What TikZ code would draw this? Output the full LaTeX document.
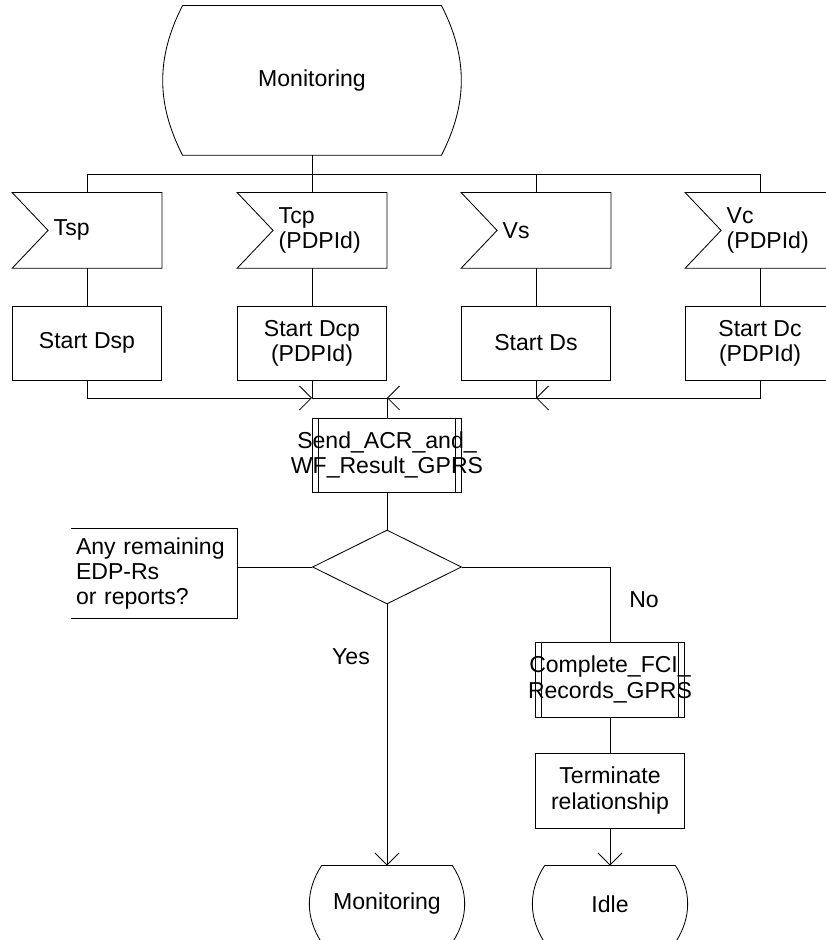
\documentclass[tikz,border=0pt]{standalone}
\usepackage{fontspec}
\setmainfont{Liberation Sans}
\usetikzlibrary{shapes.geometric, arrows.meta}

\begin{document}
\begin{tikzpicture}[line width=0.6pt, font=\fontsize{16.4}{18}\selectfont]
	\tikzset{
		statebox/.style={inner sep=0pt},
		insig/.style={minimum width=3.725cm, minimum height=1.875cm, inner sep=0pt},
		sigtext/.style={anchor=west, xshift=1.03cm, inner sep=0pt, align=left},
		taskbox/.style={draw, minimum width=3.725cm, minimum height=1.85cm, inner sep=0pt, align=center},
		procbox/.style={draw, minimum width=3.725cm, minimum height=1.85cm, inner sep=0pt},
		proctext/.style={inner sep=0pt, align=center},
		cmtbox/.style={minimum width=4.15cm, minimum height=2.225cm, text width=3.9cm, inner xsep=0.125cm, inner ysep=0pt, align=left},
		arr/.style={-{Straight Barb[length=3mm, width=6mm]}}
	}
	\useasboundingbox (0, 0) rectangle (20.65, 23.5);

	% States:
	\node[statebox, minimum width=6.45cm, minimum height=3.725cm] (mon) at (7.8, 21.49) {Monitoring};
	\node[statebox, minimum width=3.25cm, minimum height=1.9cm] (mon2) at (9.675, 0.9) {Monitoring};
	\node[statebox, minimum width=3.25cm, minimum height=1.9cm] (idle) at (15.25, 0.9) {Idle};
	\draw (mon.north west) -- (mon.north east) to[bend left=27] (mon.south east) -- (mon.south west) to[bend left=27] (mon.north west);
	\foreach \n in {mon2, idle}
		\draw (\n.north west) -- (\n.north east) to[bend left=33] (\n.south east) -- (\n.south west) to[bend left=33] (\n.north west);

	% Inputs and tasks:
	\node[insig, label={[sigtext]west:Tsp}] (tsp) at (2.175, 17.74) {};
	\node[insig, label={[sigtext]west:{Tcp\\(PDPId)}}] (tcp) at (7.8, 17.74) {};
	\node[insig, label={[sigtext]west:Vs}] (vs) at (13.4, 17.74) {};
	\node[insig, label={[sigtext]west:{Vc\\(PDPId)}}] (vc) at (19.0, 17.74) {};
	\foreach \n in {tsp, tcp, vs, vc}
		\draw (\n.north west) -- (\n.north east) -- (\n.south east) -- (\n.south west) -- ([xshift=0.9cm]\n.west) -- cycle;
	\node[taskbox] (dsp) at (2.175, 14.925) {Start Dsp};
	\node[taskbox] (dcp) at (7.8, 14.925) {Start Dcp\\(PDPId)};
	\node[taskbox] (ds) at (13.4, 14.925) {Start Ds};
	\node[taskbox] (dc) at (19.0, 14.925) {Start Dc\\(PDPId)};

	% Procedures, decision and comment:
	\node[procbox, label={[proctext]center:{Send\_ACR\_and\_\\WF\_Result\_GPRS}}] (send) at (9.675, 12.125) {};
	\node[shape=diamond, draw, minimum width=3.725cm, minimum height=1.85cm, inner sep=0pt] (dec) at (9.675, 9.325) {};
	\node[cmtbox] (cmt) at (3.85, 9.1625) {Any remaining\\EDP-Rs\\or reports?};
	\draw (cmt.north west) -- (cmt.north east) -- (cmt.south east) -- (cmt.south west);
	\node[procbox, minimum height=1.875cm, label={[proctext]center:{Complete\_FCI\_\\Records\_GPRS}}] (fci) at (15.25, 6.5125) {};
	\node[taskbox, minimum height=1.875cm] (term) at (15.25, 3.7375) {Terminate\\relationship};
	\foreach \n in {send, fci} {
		\draw ([xshift=0.16cm]\n.north west) -- ([xshift=0.16cm]\n.south west);
		\draw ([xshift=-0.16cm]\n.north east) -- ([xshift=-0.16cm]\n.south east);
	}
	\node (no) at (16.1, 8.5) {No};
	\node (yes) at (8.775, 7.075) {Yes};

	% Wires:
	\coordinate (topbus) at (7.8, 19.15);
	\coordinate (join) at (9.675, 13.55);
	\draw (mon) -- (tcp);
	\draw (tsp.north) |- (topbus) -| (vc.north);
	\draw (vs.north) -- (vs.north |- topbus);
	\foreach \a/\b in {tsp/dsp, tcp/dcp, vs/ds, vc/dc}
		\draw (\a) -- (\b);
	\draw[arr] (dsp.south) |- (dcp.south |- join);
	\draw (dcp.south) |- (join);
	\draw[arr] (dc.south) |- (ds.south |- join);
	\draw[arr] (ds.south) |- (join);
	\draw (join) -- (send);
	\draw (send) -- (dec);
	\draw (dec.west) -- (dec.west -| cmt.east);
	\draw (dec.east) -| (fci.north);
	\draw[arr] (dec.south) -- (mon2.north);
	\draw (fci) -- (term);
	\draw[arr] (term) -- (idle.north);
\end{tikzpicture}
\end{document}
